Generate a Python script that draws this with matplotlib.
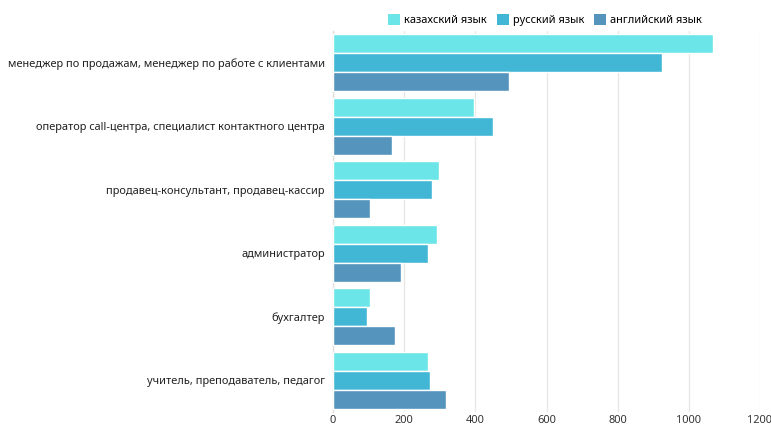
import matplotlib
matplotlib.use("Agg")
import matplotlib.pyplot as plt
import numpy as np
from matplotlib.patches import Patch

plt.rcParams['font.family'] = ['Noto Sans', 'DejaVu Sans']

categories = [
    "менеджер по продажам, менеджер по работе с клиентами",
    "оператор call-центра, специалист контактного центра",
    "продавец-консультант, продавец-кассир",
    "администратор",
    "бухгалтер",
    "учитель, преподаватель, педагог",
]
series_names = ["казахский язык", "русский язык", "английский язык"]
kazakh = [1067, 397, 299, 293, 105, 268]
russian = [924, 451, 279, 268, 96, 272]
english = [496, 166, 105, 192, 174, 318]
x_ticks = [0, 200, 400, 600, 800, 1000, 1200]

colors = ["#6be5e8", "#42b7d5", "#5494bd"]

fig = plt.figure(figsize=(7.71, 4.25), dpi=100)
W, H = 771, 425
ax = fig.add_axes([333 / W, 1 - 412 / H, (760 - 333) / W, (412 - 31) / H])

n = len(categories)
y = np.arange(n)
bh = 0.3
for i, (vals, c, name) in enumerate(zip([kazakh, russian, english], colors, series_names)):
    ax.barh(y + (i - 1) * bh, vals, height=bh, color=c, edgecolor="white",
            linewidth=1.0, label=name, zorder=3)

ax.set_ylim(n - 0.5, -0.5)
ax.set_xlim(0, 1200)
ax.set_yticks(y)
ax.set_yticklabels(categories, fontsize=7.95, color="#222222")
ax.set_xticks(x_ticks)
ax.set_xticklabels([str(t) for t in x_ticks], fontsize=7.95, color="#333333")
ax.tick_params(axis="x", length=0, pad=2.5)
ax.tick_params(axis="y", length=0, pad=6)
ax.grid(axis="x", color="#e6e6e6", linewidth=0.9, zorder=0)
for s in ["top", "right", "bottom"]:
    ax.spines[s].set_visible(False)
ax.spines["left"].set_color("#e0e0e0")
ax.spines["left"].set_linewidth(1.0)

handles = [Patch(facecolor=c, edgecolor="none") for c in colors]
fig.legend(handles, series_names, loc="center", bbox_to_anchor=(545 / W, 1 - 20 / H),
           ncol=3, frameon=False, fontsize=7.95, handlelength=1.1, handleheight=1.1,
           handletextpad=0.35, columnspacing=0.9)

fig.savefig("out.png", dpi=100, facecolor="white")
